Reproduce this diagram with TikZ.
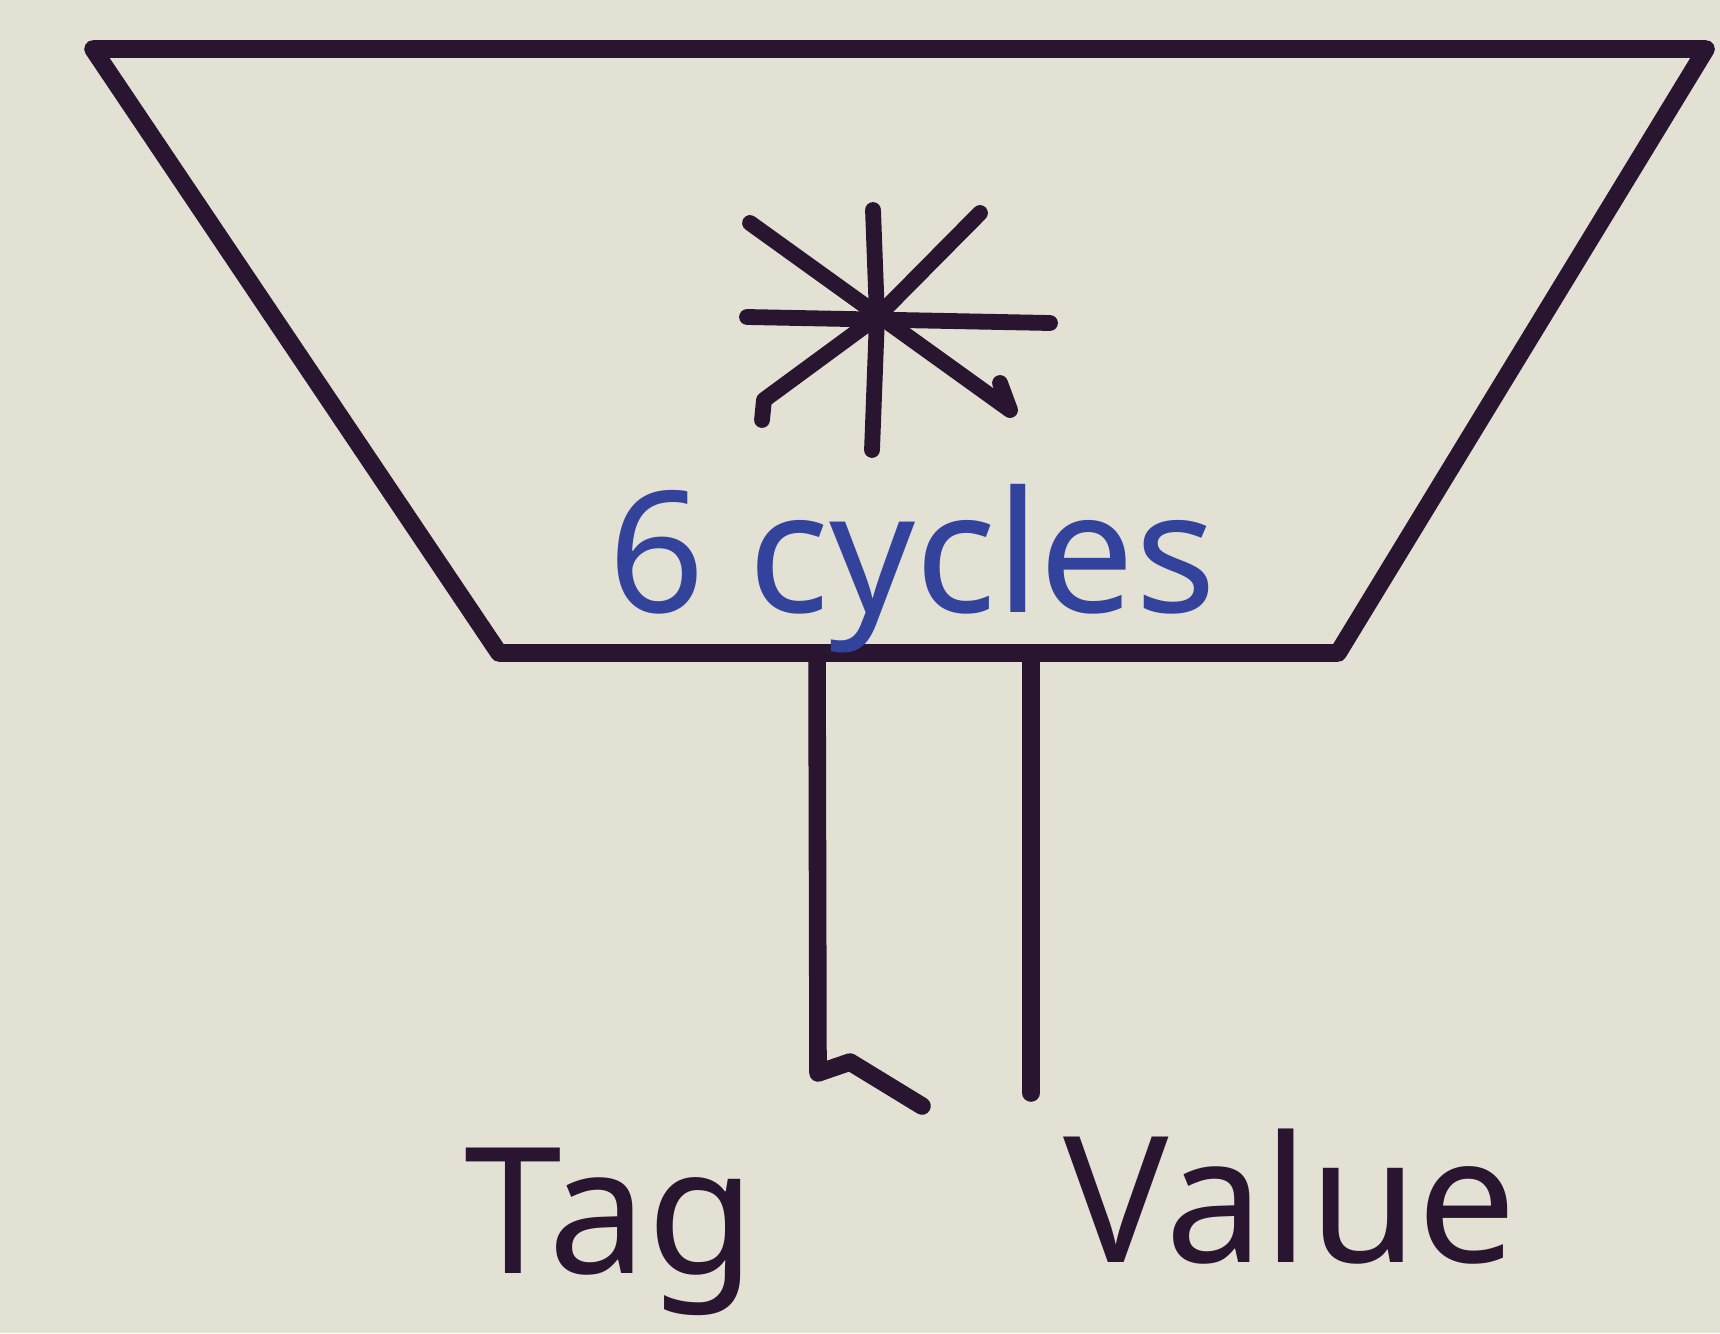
\documentclass[tikz,border=0pt]{standalone}
\usepackage{fontspec}
\setmainfont{Noto Sans}
\usetikzlibrary{calc}
\definecolor{paper}{HTML}{E3E0D4}
\definecolor{ink}{HTML}{2A1530}
\definecolor{penblue}{HTML}{33439C}

\begin{document}
\begin{tikzpicture}[x=0.1mm,y=-0.1mm,line cap=round,line join=round,
  inkline/.style={draw=ink,line width=5pt},
  label/.style={text=ink,font=\fontsize{50}{54}\selectfont,anchor=base,inner sep=0pt}]
  \fill[paper] (0,0) rectangle (1720,1333);
  \useasboundingbox (0,0) rectangle (1720,1333);
  % Trichter
  \coordinate (tl) at (93,49);
  \coordinate (tr) at (1706,49);
  \coordinate (br) at (1338,653);
  \coordinate (bl) at (499,653);
  \draw[inkline] (tl) -- (tr) -- (br) -- (bl) -- cycle;
  % Stern
  \coordinate (star) at (877,317);
  \draw[inkline,line width=4.5pt] (star) -- (873,210);
  \draw[inkline,line width=4.5pt] (star) -- (872,450);
  \draw[inkline,line width=4.5pt] (747,317) -- (1050,323);
  \draw[inkline,line width=4.5pt] (750,223) -- (1010,410) -- (1000,383);
  \draw[inkline,line width=4.5pt] (980,213) -- (star) -- (764,400) -- (762,420);
  \node[text=penblue,font=\fontsize{48}{52}\selectfont,anchor=base,inner sep=0pt] (cyc) at (912,612) {6 cycles};
  % Ausgaenge
  \coordinate (tagtop) at (817,653);
  \coordinate (tagend) at (818,1073);
  \coordinate (valtop) at (1031,653);
  \coordinate (valend) at (1031,1093);
  \draw[inkline] (tagtop) -- (tagend) -- (850,1062) -- (922,1106);
  \draw[inkline] (valtop) -- (valend);
  \node[label] (tag) at (610,1273) {Tag};
  \node[label] (val) at (1290,1262) {Value};
\end{tikzpicture}
\end{document}
